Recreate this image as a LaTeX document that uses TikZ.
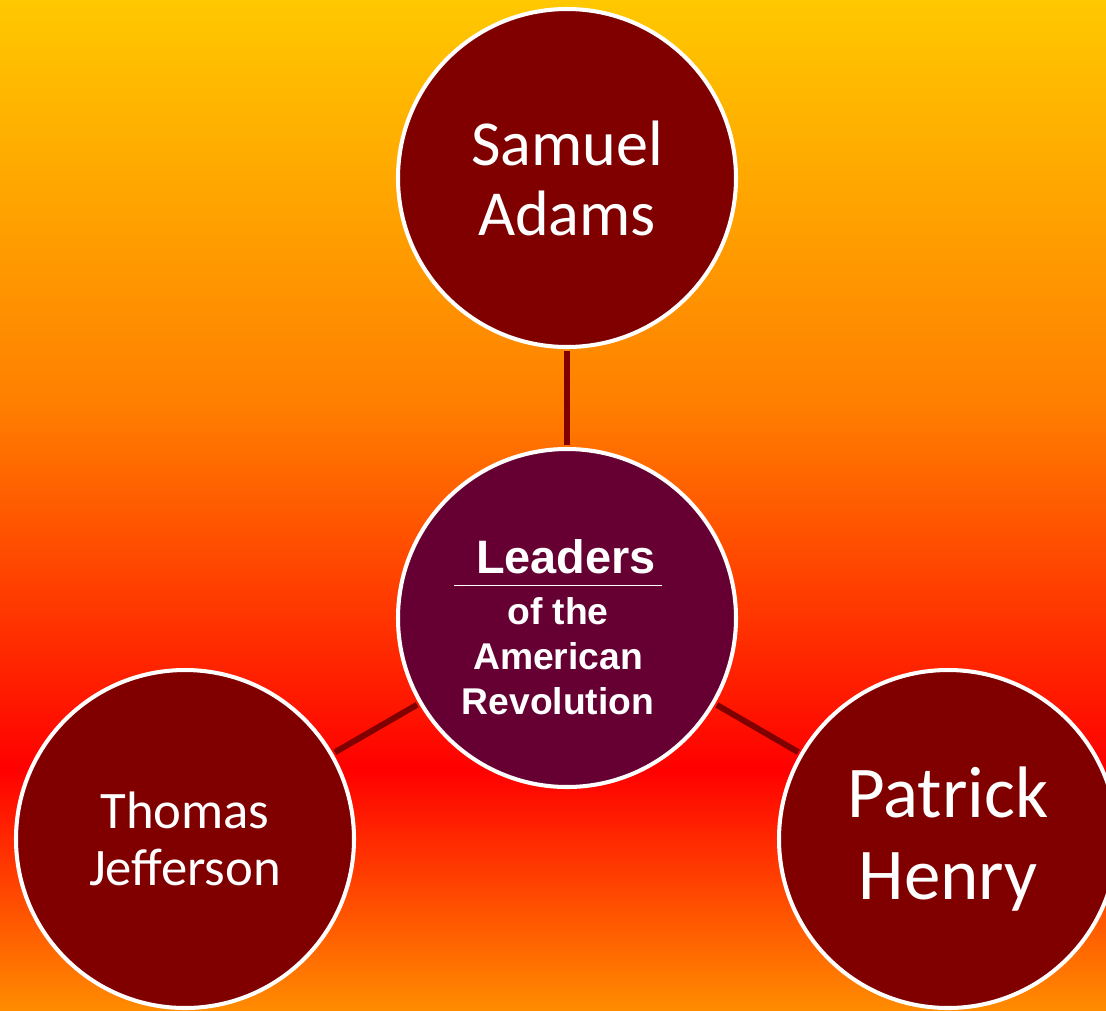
\documentclass[tikz,border=0pt]{standalone}
\usepackage{fontspec}
\setmainfont{Carlito}
\newfontfamily\lrhead{Liberation Sans}
\usepackage{xcolor}
\definecolor{lrtop}{HTML}{FFC800}
\definecolor{lrmid}{HTML}{FF8000}
\definecolor{lrred}{HTML}{FF0000}
\definecolor{lrbot}{HTML}{FF8C00}
\definecolor{lrmaroon}{HTML}{800000}
\definecolor{lrplum}{HTML}{660033}
\usepackage{tikz}
\usetikzlibrary{positioning}
\pgfdeclareverticalshading{lrsky}{100bp}{color(0bp)=(lrbot); color(25bp)=(lrbot);
  color(36.9bp)=(lrred); color(55.2bp)=(lrmid); color(75bp)=(lrtop); color(100bp)=(lrtop)}
\tikzset{
  lrball/.style ={circle, draw=white, line width=2.3pt, fill=lrmaroon,
                  minimum size=6.76cm, inner sep=0pt, align=center, text=white},
  lrhub/.style  ={lrball, fill=lrplum},
  lrtitle/.style={align=center, text=white, inner sep=0pt,
                  font=\lrhead\bfseries\fontsize{21.2}{25.5}\selectfont},
  lrlink/.style ={draw=lrmaroon, line width=3.4pt, shorten <=1.2pt, shorten >=1.2pt},
}

\begin{document}
\begin{tikzpicture}
  \useasboundingbox (0,0) rectangle (22.12,-20.2);
  \shade[shading=lrsky] (0,0) rectangle (22.12,-20.2);
  \node[lrhub] (ld) at (11.34,-12.36) {};
  \node[lrtitle] (ldtext) at ([xshift=-0.18cm, yshift=-0.18cm]ld.center)
    {{\fontsize{26.7}{28}\selectfont\underline{\hspace{12.5pt}Leaders\hspace{3.4pt}\vphantom{g}}}\\[4pt]
     of the\\ American\\ Revolution};
  \node[lrball, font=\fontsize{36.5}{39.8}\selectfont] (sa) at (11.34,-3.56) {Samuel\\ Adams};
  \node[lrball, font=\fontsize{30}{32.4}\selectfont]   (tj) at (3.70,-16.78) {Thomas\\ Jefferson};
  \node[lrball, font=\fontsize{41.5}{47}\selectfont]   (ph) at (18.96,-16.78) {Patrick\\ Henry};
  \foreach \n in {sa,tj,ph}{\draw[lrlink] (ld) -- (\n);}
\end{tikzpicture}
\end{document}
